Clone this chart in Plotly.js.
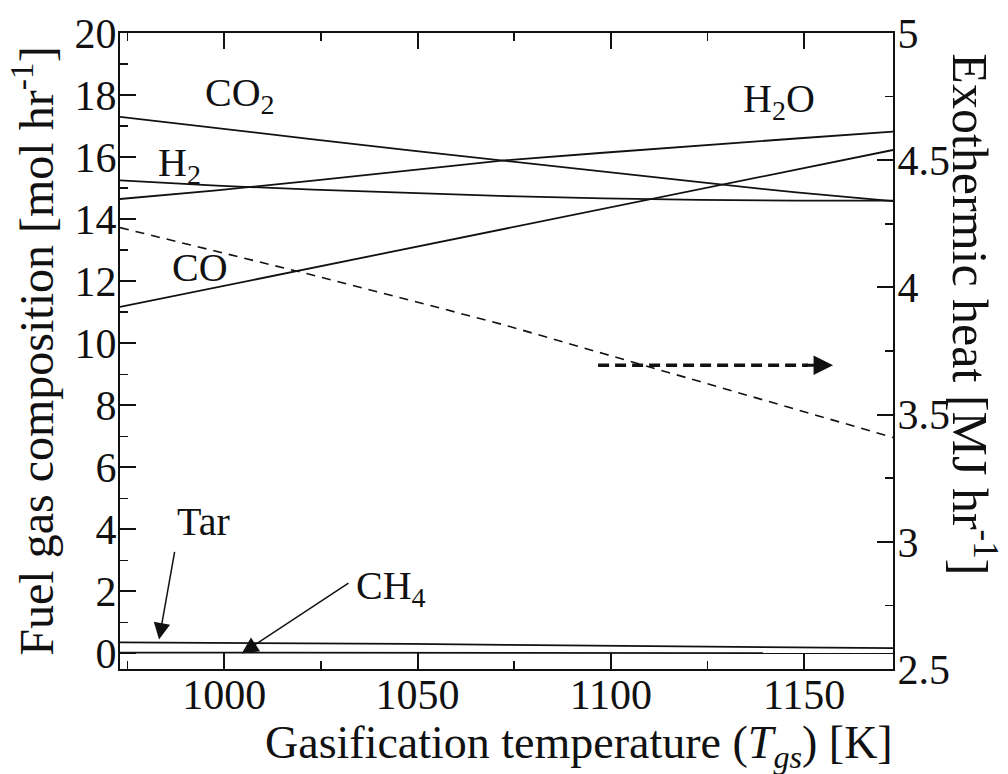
<!DOCTYPE html>
<html>
<head>
<meta charset="utf-8">
<script src="https://cdn.plot.ly/plotly-3.0.1.min.js"></script>
<style>html,body{margin:0;padding:0;background:#fff;}#chart{width:1008px;height:774px;}</style>
</head>
<body>
<div id="chart"></div>
<script>
// Gasification temperature [K]
const tempK = [973, 998, 1023, 1048, 1073, 1098, 1123, 1148, 1173];
// Fuel gas composition [mol/hr]
const co2 = [17.30, 16.93, 16.57, 16.22, 15.87, 15.53, 15.19, 14.86, 14.58];
const h2o = [14.65, 14.93, 15.24, 15.57, 15.90, 16.14, 16.38, 16.60, 16.82];
const h2  = [15.25, 15.08, 14.95, 14.84, 14.74, 14.67, 14.62, 14.60, 14.60];
const co  = [11.17, 11.80, 12.43, 13.07, 13.70, 14.33, 14.96, 15.60, 16.23];
const tar = [0.36, 0.35, 0.33, 0.31, 0.28, 0.25, 0.22, 0.19, 0.17];
const ch4 = [0.03, 0.03, 0.02, 0.02, 0.02, 0.01, 0.01, 0.01, 0.01];
// Exothermic heat [MJ/hr]
const heat = [4.235, 4.142, 4.048, 3.95, 3.85, 3.74, 3.631, 3.52, 3.41];

const FONT = 'Liberation Serif, Times New Roman, serif';
const solid = {color: '#111', width: 1.8};

function gasTrace(y, name) {
  return {x: tempK, y: y, name: name, type: 'scatter', mode: 'lines', line: solid, hoverinfo: 'skip'};
}

const traces = [
  gasTrace(co2, 'CO2'),
  gasTrace(h2o, 'H2O'),
  gasTrace(h2, 'H2'),
  gasTrace(co, 'CO'),
  gasTrace(tar, 'Tar'),
  gasTrace(ch4, 'CH4'),
  {x: tempK, y: heat, name: 'Exothermic heat', type: 'scatter', mode: 'lines', yaxis: 'y2',
   line: {color: '#111', width: 1.6, dash: '9px,7px'}, hoverinfo: 'skip'}
];

const labelFont = {family: FONT, size: 40, color: '#111'};
function label(x, y, text) {
  return {x: x, y: y, xref: 'x', yref: 'y', text: text, showarrow: false, font: labelFont};
}
function arrow(x, y, ax, ay, w, size) {
  return {x: x, y: y, ax: ax, ay: ay, xref: 'x', yref: 'y', axref: 'x', ayref: 'y', text: '',
          showarrow: true, arrowhead: 2, arrowsize: size, arrowwidth: w, arrowcolor: '#111'};
}

const layout = {
  width: 1008, height: 774,
  margin: {l: 120, r: 115, t: 33, b: 105, pad: 0},
  paper_bgcolor: '#fff', plot_bgcolor: '#fff',
  showlegend: false,
  font: {family: FONT, color: '#111'},
  xaxis: {
    range: [973, 1173], tick0: 1000, dtick: 50,
    ticks: 'inside', ticklen: 16, tickwidth: 2, tickcolor: '#111',
    minor: {dtick: 25, ticks: 'inside', ticklen: 8, tickwidth: 1.5, tickcolor: '#111'},
    showline: true, linewidth: 2, linecolor: '#111', mirror: 'ticks',
    showgrid: false, zeroline: false,
    ticklabelstandoff: -12,
    tickfont: {family: FONT, size: 42, color: '#111'}
  },
  yaxis: {
    range: [-0.5, 20], tick0: 0, dtick: 2,
    ticks: 'inside', ticklen: 16, tickwidth: 2, tickcolor: '#111',
    minor: {dtick: 1, ticks: 'inside', ticklen: 8, tickwidth: 1.5, tickcolor: '#111'},
    showline: true, linewidth: 2, linecolor: '#111',
    showgrid: false, zeroline: false,
    ticklabelstandoff: -7,
    tickfont: {family: FONT, size: 42, color: '#111'},
    title: {text: 'Fuel gas composition [mol hr<sup>-1</sup>]', font: {family: FONT, size: 48, color: '#111'}, standoff: 6}
  },
  yaxis2: {
    overlaying: 'y', side: 'right', anchor: 'x',
    range: [2.5, 5], tick0: 2.5, dtick: 0.5,
    ticks: 'inside', ticklen: 16, tickwidth: 2, tickcolor: '#111',
    minor: {dtick: 0.25, ticks: 'inside', ticklen: 8, tickwidth: 1.5, tickcolor: '#111'},
    showline: true, linewidth: 2, linecolor: '#111',
    showgrid: false, zeroline: false,
    ticklabelstandoff: -6,
    tickfont: {family: FONT, size: 42, color: '#111'}
  },
  shapes: [
    {type: 'line', xref: 'x', yref: 'y', x0: 1096.7, y0: 9.29, x1: 1151, y1: 9.29,
     line: {color: '#111', width: 3.5, dash: '11px,6px'}}
  ],
  annotations: [
    label(1004, 18.0, 'CO<sub>2</sub>'),
    label(1143.5, 17.8, 'H<sub>2</sub>O'),
    label(988.5, 15.74, 'H<sub>2</sub>'),
    label(993.7, 12.45, 'CO'),
    label(994.5, 4.26, 'Tar'),
    label(1043, 2.1, 'CH<sub>4</sub>'),
    arrow(983.1, 0.45, 987.2, 3.32, 1.5, 2.2),
    arrow(1004.5, 0.0, 1032.5, 2.3, 1.5, 2.2),
    arrow(1157.5, 9.29, 1150, 9.29, 3, 1.3),
    {xref: 'paper', yref: 'paper', x: 0.594, y: -0.121, xanchor: 'center', yanchor: 'middle',
     text: 'Gasification temperature (<i>T</i><sub><i>gs</i></sub>) [K]',
     showarrow: false, font: {family: FONT, size: 46, color: '#111'}},
    {xref: 'paper', yref: 'paper', x: 1.104, y: 0.557, xanchor: 'center', yanchor: 'middle',
     text: 'Exothermic heat [MJ hr<sup>-1</sup>]',
     textangle: 90, showarrow: false, font: {family: FONT, size: 50, color: '#111'}}
  ]
};

Plotly.newPlot('chart', traces, layout, {staticPlot: true, displayModeBar: false});
</script>
</body>
</html>
